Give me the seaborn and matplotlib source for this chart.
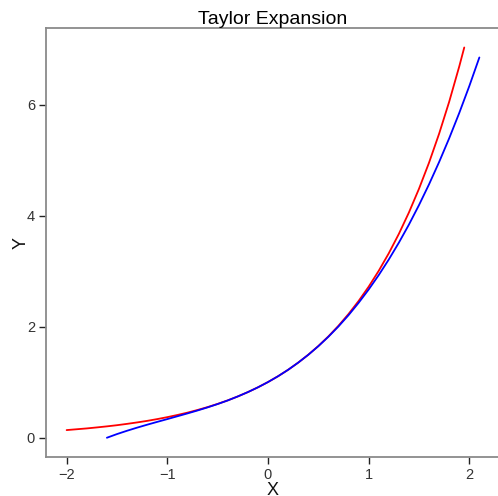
import matplotlib
matplotlib.use("Agg")
import matplotlib.pyplot as plt
import seaborn as sns
import pandas as pd

# exp(x) curve (red)
red_x = [-2.0, -1.9, -1.8, -1.7, -1.6, -1.5, -1.4, -1.3, -1.2, -1.1, -1.0, -0.9, -0.8, -0.7,
         -0.6, -0.5, -0.4, -0.3, -0.2, -0.1, 0.0, 0.1, 0.2, 0.3, 0.4, 0.5, 0.6, 0.7, 0.8, 0.9,
         1.0, 1.1, 1.2, 1.3, 1.4, 1.5, 1.6, 1.7, 1.8, 1.9, 1.95]
red_y = [0.135, 0.150, 0.165, 0.183, 0.202, 0.223, 0.247, 0.273, 0.301, 0.333, 0.368, 0.407,
         0.449, 0.497, 0.549, 0.607, 0.670, 0.741, 0.819, 0.905, 1.000, 1.105, 1.221, 1.350,
         1.492, 1.649, 1.822, 2.014, 2.226, 2.460, 2.718, 3.004, 3.320, 3.669, 4.055, 4.482,
         4.953, 5.474, 6.050, 6.686, 7.029]

# Taylor polynomial curve (blue)
blue_x = [-1.6, -1.5, -1.4, -1.3, -1.2, -1.1, -1.0, -0.9, -0.8, -0.7, -0.6, -0.5, -0.4, -0.3,
          -0.2, -0.1, 0.0, 0.1, 0.2, 0.3, 0.4, 0.5, 0.6, 0.7, 0.8, 0.9, 1.0, 1.1, 1.2, 1.3,
          1.4, 1.5, 1.6, 1.7, 1.8, 1.9, 2.0, 2.1]
blue_y = [-0.003, 0.063, 0.123, 0.179, 0.232, 0.283, 0.333, 0.384, 0.435, 0.488, 0.544, 0.604,
          0.669, 0.741, 0.819, 0.905, 1.000, 1.105, 1.221, 1.350, 1.491, 1.646, 1.816, 2.002,
          2.205, 2.427, 2.667, 2.927, 3.208, 3.511, 3.837, 4.188, 4.563, 4.964, 5.392, 5.848,
          6.333, 6.849]

x_ticks = [-2, -1, 0, 1, 2]
y_ticks = [0, 2, 4, 6]

sns.set_theme(style="white")
plt.rcParams['font.family'] = ['Liberation Sans', 'DejaVu Sans']

W, H = 498, 496
fig = plt.figure(figsize=(W / 100, H / 100), dpi=100)
ax = fig.add_axes([46 / W, (H - 457) / H, (500 - 46) / W, (457 - 28) / H])

df_red = pd.DataFrame({"x": red_x, "y": red_y})
df_blue = pd.DataFrame({"x": blue_x, "y": blue_y})
sns.lineplot(data=df_red, x="x", y="y", sort=False, color="#ff0000", lw=1.3, ax=ax)
sns.lineplot(data=df_blue, x="x", y="y", sort=False, color="#0000ff", lw=1.3, ax=ax)

ax.set_xlim(-2.205, 2.305)
ax.set_ylim(-0.35, 7.38)
ax.set_xticks(x_ticks)
ax.set_yticks(y_ticks)
ax.set_xticklabels(["\u22122", "\u22121", "0", "1", "2"])
ax.set_yticklabels([str(v) for v in y_ticks])

for s in ax.spines.values():
    s.set_color("#8a8a8a")
    s.set_linewidth(1.3)
    s.set_visible(True)

ax.tick_params(axis="both", which="major", direction="out", length=5, width=1,
               color="#222222", labelsize=10.5, labelcolor="#333333", pad=3.0,
               bottom=True, left=True)

ax.set_xlabel("X", fontsize=13, color="#111111")
ax.set_ylabel("Y", fontsize=13, color="#111111")
ax.xaxis.set_label_coords(0.5, (457 - 482) / 429)
ax.yaxis.set_label_coords((30 - 46) / 454, 0.5)
ax.set_title("Taylor Expansion", fontsize=14, color="#000000", pad=3)

fig.savefig("out.png", dpi=100)
